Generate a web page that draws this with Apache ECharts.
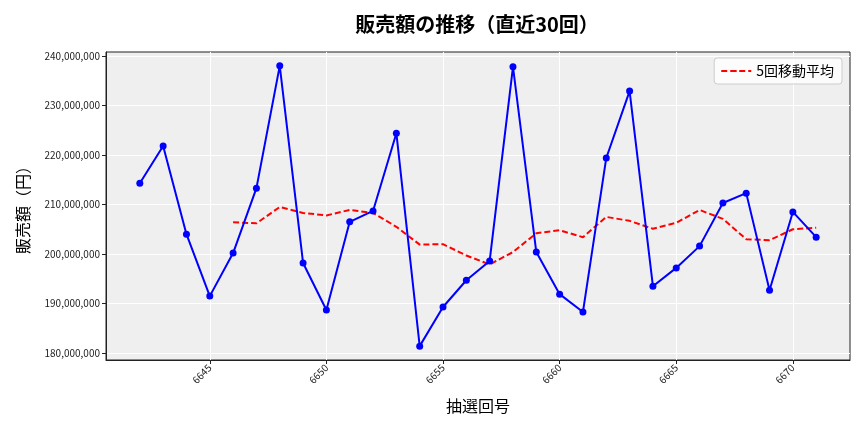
<!DOCTYPE html>
<html><head><meta charset="utf-8">
<script src="https://cdn.jsdelivr.net/npm/echarts@6/dist/echarts.min.js"></script>
<style>html,body{margin:0;padding:0;background:#fff}#c{width:864px;height:432px}</style>
</head><body><div id="c"></div>
<script>
const draws = [6642,6643,6644,6645,6646,6647,6648,6649,6650,6651,6652,6653,6654,6655,6656,6657,6658,6659,6660,6661,6662,6663,6664,6665,6666,6667,6668,6669,6670,6671];
const sales = [214.3,221.8,204.0,191.5,200.2,213.3,238.0,198.2,188.7,206.5,208.7,224.4,181.4,189.3,194.7,198.6,237.8,200.4,191.9,188.3,219.4,232.9,193.5,197.2,201.6,210.3,212.3,192.7,208.5,203.4];
const maDraws = [6646,6647,6648,6649,6650,6651,6652,6653,6654,6655,6656,6657,6658,6659,6660,6661,6662,6663,6664,6665,6666,6667,6668,6669,6670,6671];
const maValues = [206.4,206.2,209.5,208.3,207.8,208.9,208.3,205.5,201.9,202.0,199.7,197.9,200.4,204.2,204.8,203.4,207.5,206.7,205.1,206.3,208.9,207.1,203.0,202.8,205.0,205.3];
const xTicks = [6645,6650,6655,6660,6665,6670];
const yTicks = [180,190,200,210,220,230,240];
const M = 1e6;
const JP = '"Noto Sans CJK JP", "Noto Sans", sans-serif';

const chart = echarts.init(document.getElementById('c'), null, {renderer:'canvas'});
chart.setOption({
  animation:false,
  backgroundColor:'#ffffff',
  title:{text:'販売額の推移（直近30回）', left:472, top:9, textAlign:'center',
    textStyle:{fontFamily:JP, fontSize:20, fontWeight:'bold', color:'#000'}},
  legend:{right:22, top:58, data:['5回移動平均'], backgroundColor:'rgba(255,255,255,0.8)',
    borderColor:'#cccccc', borderWidth:1, borderRadius:3, padding:[6,8,6,6],
    itemWidth:30, itemHeight:2, itemGap:8,
    textStyle:{fontFamily:JP, fontSize:14, color:'#000'}},
  grid:{left:106, right:14, top:52, bottom:72, show:true, backgroundColor:'#efefef',
    borderColor:'#222', borderWidth:1},
  xAxis:{type:'value', min:6640.55, max:6672.45,
    name:'抽選回号', nameLocation:'middle', nameGap:38,
    nameTextStyle:{fontFamily:JP, fontSize:16, color:'#000'},
    axisLine:{show:true, onZero:false, lineStyle:{color:'#222'}},
    axisTick:{show:true, length:4, customValues:xTicks, lineStyle:{color:'#222'}},
    axisLabel:{customValues:xTicks, rotate:45, fontFamily:JP, fontSize:10, color:'#222', margin:6,
      formatter:v=>String(Math.round(v))},
    splitLine:{show:true, lineStyle:{color:'#ffffff', width:1}}},
  yAxis:{type:'value', min:178.6*M, max:240.8*M,
    name:'販売額（円）', nameLocation:'middle', nameGap:75, nameRotate:90,
    nameTextStyle:{fontFamily:JP, fontSize:16, color:'#000'},
    axisLine:{show:true, lineStyle:{color:'#222'}},
    axisTick:{show:true, length:4, customValues:yTicks.map(v=>v*M), lineStyle:{color:'#222'}},
    axisLabel:{customValues:yTicks.map(v=>v*M), fontFamily:JP, fontSize:10, color:'#222', margin:6,
      formatter:v=>Math.round(v).toLocaleString('en-US')},
    splitLine:{show:true, lineStyle:{color:'#ffffff', width:1}}},
  series:[
    {name:'販売額', type:'line', data:draws.map((d,i)=>[d, sales[i]*M]),
      symbol:'circle', symbolSize:7, lineStyle:{color:'#0000ff', width:2},
      itemStyle:{color:'#0000ff'}, z:3},
    {name:'5回移動平均', type:'line', data:maDraws.map((d,i)=>[d, maValues[i]*M]),
      symbol:'none', lineStyle:{color:'#ff0000', width:2, type:[6,3]},
      itemStyle:{color:'#ff0000'}, z:2}
  ]
});
</script></body></html>
